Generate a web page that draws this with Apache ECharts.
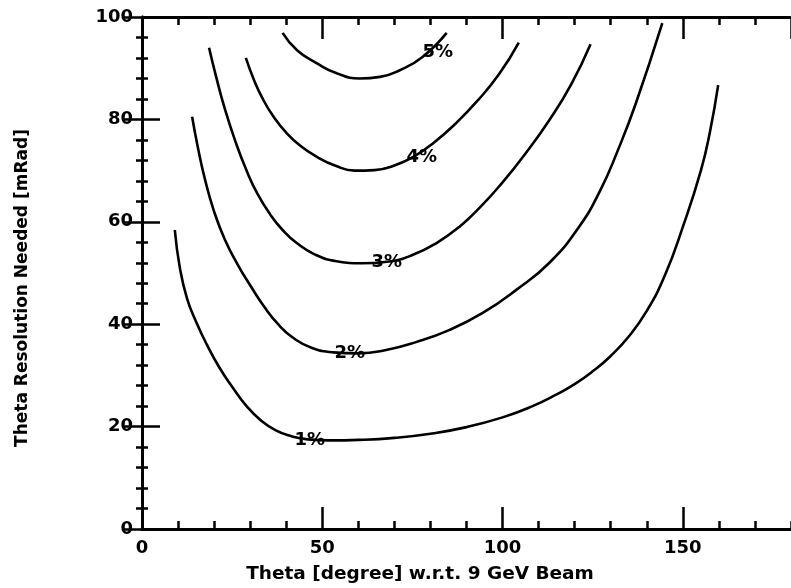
<!DOCTYPE html>
<html>
<head>
<meta charset="utf-8">
<script src="https://cdn.jsdelivr.net/npm/echarts@6/dist/echarts.min.js"></script>
<style>
html,body{margin:0;padding:0;background:#fff;}
#c{width:791px;height:588px;}
</style>
</head>
<body>
<div id="c"></div>
<script>
// ---- data ----
const theta1 = [9.1, 10.5, 12.5, 15, 18, 21.5, 25, 29, 33, 37, 41, 46, 52, 60, 70, 80, 90, 100, 108, 115, 120, 125, 130, 135, 140, 145, 150, 155, 157.5, 159.8];
const res1   = [58.4, 51, 45, 40.5, 36, 31.5, 27.8, 24, 21.2, 19.3, 18.2, 17.5, 17.3, 17.4, 17.8, 18.6, 19.9, 21.8, 23.9, 26.3, 28.3, 30.8, 33.8, 37.6, 42.6, 49.5, 59, 70, 77.5, 86.7];

const theta2 = [13.9, 15.5, 17.5, 20, 23, 26.5, 30, 34, 38, 42, 47, 53, 60, 68, 76, 85, 94.5, 104, 113, 121, 127, 132, 137, 144.3];
const res2   = [80.5, 74.5, 68.2, 62, 56.5, 51.7, 47.6, 43.3, 39.8, 37.3, 35.4, 34.5, 34.3, 35, 36.5, 38.8, 42.2, 46.8, 52, 58.8, 66, 74, 83.2, 98.8];

const theta3 = [18.6, 20.5, 23, 26, 29, 32, 35.5, 39, 43, 48, 54, 61, 68, 75, 82, 88, 94, 100, 106, 113, 119, 124.4];
const res3   = [94, 88.5, 82, 75.5, 70, 65.5, 61.5, 58.4, 55.8, 53.6, 52.3, 51.9, 52.2, 53.5, 56, 59, 63, 67.7, 73, 79.9, 86.8, 94.7];

const theta4 = [28.8, 31, 33.5, 36.5, 40, 44, 48.5, 53.5, 59, 64.5, 70, 75.5, 81, 87, 93, 99, 104.5];
const res4   = [92, 87.8, 84, 80.5, 77.4, 74.8, 72.7, 71, 70, 70.1, 71, 72.8, 75.5, 79.2, 83.6, 88.8, 95];

const theta5 = [39, 43, 48.4, 54, 60.4, 66, 71.5, 77.8, 84.5];
const res5   = [96.9, 93.5, 91, 89, 88, 88.3, 89.6, 92.2, 96.9];

const labelText  = ['1%', '2%', '3%', '4%', '5%'];
const labelTheta = [46.5, 57.6, 67.9, 77.6, 82];
const labelRes   = [17.4, 34.4, 52.1, 72.6, 93.1];

const xTitle = 'Theta [degree] w.r.t. 9 GeV Beam';
const yTitle = 'Theta Resolution Needed [mRad]';

// ---- build ----
const zip = (a, b) => a.map((v, i) => [v, b[i]]);
const curves = [[theta1, res1], [theta2, res2], [theta3, res3], [theta4, res4], [theta5, res5]];

const FONT = 'DejaVu Sans';
const black = '#000';

function xAxisDef(position, interval, tickLen, showLabel) {
  return {
    type: 'value', position: position, min: 0, max: 180, interval: interval,
    axisLine: {show: true, lineStyle: {color: black, width: 3}},
    axisTick: {show: true, inside: true, length: tickLen, lineStyle: {color: black, width: 2.5}},
    axisLabel: {show: showLabel, showMaxLabel: false, margin: 10, color: black,
      fontFamily: FONT, fontWeight: 'bold', fontSize: 18},
    splitLine: {show: false}
  };
}
function yAxisDef(position, showLabel) {
  return {
    type: 'value', position: position, min: 0, max: 100, interval: 20,
    axisLine: {show: true, lineStyle: {color: black, width: 3}},
    axisTick: {show: true, inside: true, length: 18, lineStyle: {color: black, width: 2.5}},
    minorTick: {show: true, splitNumber: 5, length: 6, lineStyle: {color: black, width: 2.5}},
    axisLabel: {show: showLabel, margin: 9, color: black,
      fontFamily: FONT, fontWeight: 'bold', fontSize: 18},
    splitLine: {show: false}
  };
}

const series = curves.map(c => ({
  type: 'line', xAxisIndex: 0, yAxisIndex: 0,
  data: zip(c[0], c[1]), smooth: 0.5, symbol: 'none',
  lineStyle: {color: black, width: 2.6}, z: 2
}));
series.push({
  type: 'scatter', xAxisIndex: 0, yAxisIndex: 0,
  symbolSize: 0, itemStyle: {color: black, opacity: 1},
  data: labelText.map((t, i) => ({name: t, value: [labelTheta[i], labelRes[i]]})),
  label: {show: true, position: [0, 0], align: 'center', verticalAlign: 'middle',
    formatter: p => p.name, color: black, opacity: 1, textBorderWidth: 0,
    fontFamily: FONT, fontWeight: 'bold', fontSize: 18},
  emphasis: {disabled: true},
  z: 5
});

const chart = echarts.init(document.getElementById('c'), null, {renderer: 'canvas'});
chart.setOption({
  animation: false,
  backgroundColor: '#fff',
  grid: {left: 142, top: 17, width: 650, height: 512, containLabel: false},
  xAxis: [
    xAxisDef('bottom', 50, 22, true),
    xAxisDef('bottom', 10, 8, false),
    xAxisDef('top', 50, 22, false),
    xAxisDef('top', 10, 8, false)
  ],
  yAxis: [yAxisDef('left', true), yAxisDef('right', false)],
  graphic: [
    {type: 'text', x: 420, y: 574, style: {text: xTitle, fill: black, font: 'bold 18.5px "DejaVu Sans"',
      textAlign: 'center', textVerticalAlign: 'middle'}},
    {type: 'text', x: 23, y: 288, rotation: Math.PI / 2, style: {text: yTitle, fill: black,
      font: 'bold 17px "DejaVu Sans"', textAlign: 'center', textVerticalAlign: 'middle'}}
  ],
  series: series
});
</script>
</body>
</html>
